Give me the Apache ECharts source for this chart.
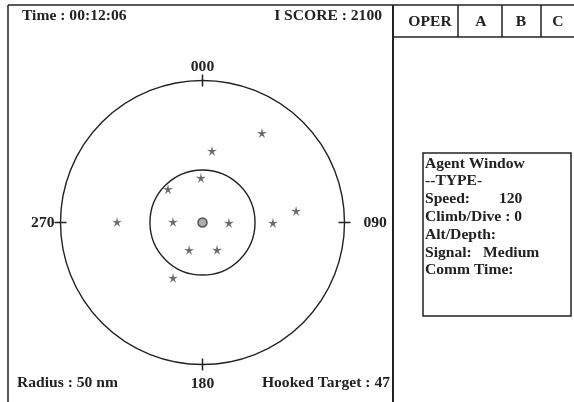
<!DOCTYPE html>
<html>
<head>
<meta charset="utf-8">
<script src="https://cdn.jsdelivr.net/npm/echarts@6/dist/echarts.min.js"></script>
<style>
html, body { margin: 0; padding: 0; background: #fff; }
#main { width: 574px; height: 402px; }
</style>
</head>
<body>
<div id="main"></div>
<script>
// radar data: range in nm, bearing in degrees
var maxRange = 50;
var ringRange = 18.5;
var bearingLabels = ['000', '090', '180', '270'];
var contactRange = [37.8, 25.4, 15.7, 16.9, 30.1, 10.4, 9.3, 24.8, 33.2, 10.8, 10.9, 22.1];
var contactBearing = [33.6, 7.6, 358, 314, 270.3, 271, 91, 90.4, 83, 206, 152, 208];
var ownShip = [[0, 0]];

var tabNames = ['OPER', 'A', 'B', 'C'];
var agentLines = ['Agent Window', '--TYPE-', 'Speed:', 'Climb/Dive : 0', 'Alt/Depth:', 'Signal:', 'Comm Time:'];

var font = 'bold 15.6px "Liberation Serif", "Times New Roman", serif';
var ink = '#222';

var cx = 202.5, cy = 222.5, R = 142;

var contacts = [];
for (var i = 0; i < contactRange.length; i++) {
    contacts.push([contactRange[i], contactBearing[i]]);
}

// small five-armed asterisk
var starPath = 'path://M50 0L59.4 37.1L97.6 34.5L65.2 54.9L79.4 90.5L50 66L20.6 90.5L34.8 54.9L2.4 34.5L40.6 37.1Z';

function txt(x, y, s, align, valign) {
    return {
        type: 'text', x: x, y: y, silent: true,
        style: { text: s, font: font, fill: ink, align: align || 'left', verticalAlign: valign || 'middle' }
    };
}
function ln(x1, y1, x2, y2, w) {
    return {
        type: 'line', silent: true,
        shape: { x1: x1, y1: y1, x2: x2, y2: y2 },
        style: { stroke: ink, lineWidth: w || 1.5 }
    };
}

var graphics = [
    ln(8, 5, 574, 5),
    ln(8, 5, 8, 402),
    ln(393, 5, 393, 402, 2),
    ln(393, 37, 574, 37),
    ln(458, 5, 458, 37),
    ln(502, 5, 502, 37),
    ln(541, 5, 541, 37),
    txt(22, 16, 'Time : 00:12:06'),
    txt(382, 16, 'I SCORE : 2100', 'right'),
    txt(17, 383, 'Radius : 50 nm'),
    txt(390, 383, 'Hooked Target : 47', 'right'),
    {
        type: 'rect', silent: true,
        shape: { x: 423, y: 153, width: 148, height: 163 },
        style: { fill: '#fff', stroke: ink, lineWidth: 1.5 }
    }
];
var tabCenters = [430, 481, 521, 558];
tabNames.forEach(function (t, k) {
    graphics.push(txt(tabCenters[k], 22, t, 'center'));
});
agentLines.forEach(function (t, k) {
    graphics.push(txt(425, 163.5 + k * 17.8, t));
});
graphics.push(txt(499, 163.5 + 2 * 17.8, '120'));
graphics.push(txt(483, 163.5 + 5 * 17.8, 'Medium'));

var labelRich = {
    n: {},
    e: { padding: [0, 0, 0, 13] },
    s: { padding: [5, 0, 0, 0] },
    w: {}
};
var richKeys = ['n', 'e', 's', 'w'];

var myChart = echarts.init(document.getElementById('main'));
myChart.setOption({
    animation: false,
    backgroundColor: '#fff',
    polar: [
        { center: [cx, cy], radius: R },
        { center: [cx, cy], radius: R },
        { center: [cx, cy], radius: R * ringRange / maxRange }
    ],
    angleAxis: [
        {
            polarIndex: 0, type: 'value', min: 0, max: 360, interval: 90,
            startAngle: 90, clockwise: true,
            axisLine: { show: true, lineStyle: { color: ink, width: 1.4 } },
            axisTick: { show: true, length: 6, lineStyle: { color: ink, width: 1.5 } },
            axisLabel: {
                show: true, margin: 6,
                fontFamily: '"Liberation Serif", serif', fontWeight: 'bold', fontSize: 15.6, color: ink,
                rich: labelRich,
                formatter: function (v) {
                    var k = (v % 360) / 90;
                    return '{' + richKeys[k] + '|' + bearingLabels[k] + '}';
                }
            },
            splitLine: { show: false }
        },
        {
            polarIndex: 1, type: 'value', min: 0, max: 360, interval: 90,
            startAngle: 90, clockwise: true,
            axisLine: { show: false },
            axisTick: { show: true, inside: true, length: 6, lineStyle: { color: ink, width: 1.5 } },
            axisLabel: { show: false },
            splitLine: { show: false }
        },
        {
            polarIndex: 2, type: 'value', min: 0, max: 360,
            startAngle: 90, clockwise: true,
            axisLine: { show: true, lineStyle: { color: ink, width: 1.4 } },
            axisTick: { show: false },
            axisLabel: { show: false },
            splitLine: { show: false }
        }
    ],
    radiusAxis: [
        { polarIndex: 0, min: 0, max: maxRange, show: false },
        { polarIndex: 1, min: 0, max: maxRange, show: false },
        { polarIndex: 2, min: 0, max: ringRange, show: false }
    ],
    series: [
        {
            type: 'scatter', coordinateSystem: 'polar', polarIndex: 0,
            symbol: starPath, symbolSize: 10,
            itemStyle: { color: '#444' },
            data: contacts
        },
        {
            type: 'scatter', coordinateSystem: 'polar', polarIndex: 0,
            symbol: 'circle', symbolSize: 9,
            itemStyle: { color: '#999', borderColor: '#333', borderWidth: 1.5 },
            data: ownShip
        }
    ],
    graphic: graphics
});
</script>
</body>
</html>
